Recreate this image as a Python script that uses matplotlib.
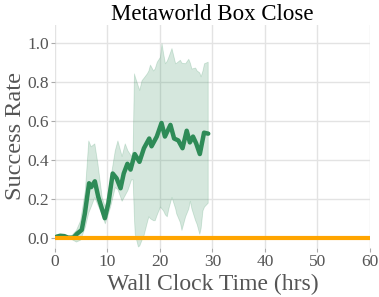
import matplotlib.pyplot as plt

plt.rcParams['font.family'] = ['Liberation Serif', 'DejaVu Serif']

# mean success rate of the green run
green_time = [0.3, 1.0, 1.8, 2.5, 3.5, 4.2, 5.1, 5.7, 6.5, 6.9, 7.6, 8.25, 9.5, 10.2,
              11.0, 11.75, 12.5, 13.1, 13.8, 14.4, 15.2, 16.1, 16.95, 17.96, 18.4,
              19.4, 20.3, 20.95, 22.0, 22.7, 23.5, 24.3, 25.1, 25.7, 26.3, 26.9,
              27.6, 28.4, 29.2]
green_mean = [0.005, 0.01, 0.008, 0.0, 0.0, 0.02, 0.04, 0.125, 0.28, 0.26, 0.29, 0.21,
              0.10, 0.18, 0.33, 0.305, 0.254, 0.33, 0.38, 0.35, 0.43, 0.39, 0.46, 0.51,
              0.47, 0.52, 0.59, 0.52, 0.58, 0.51, 0.50, 0.46, 0.55, 0.49, 0.52, 0.485,
              0.43, 0.54, 0.535]

# spread of the green run
band_time = [0.3, 1.5, 3.0, 4.0, 4.8, 5.7, 6.35, 6.8, 7.5, 8.1, 8.9, 9.5, 10.5, 11.4,
             11.9, 12.7, 13.3, 13.8, 14.5, 14.8, 15.05, 15.2, 15.8, 16.06, 16.5, 16.8,
             17.5, 17.8, 18.1, 18.7, 19.0, 19.4, 20.0, 20.3, 20.6, 20.95, 21.3, 21.6,
             22.2, 22.9, 23.1, 23.8, 24.1, 24.8, 25.4, 25.7, 26.0, 26.7, 27.0, 27.5,
             27.75, 28.1, 28.4, 29.1]
band_upper = [0.01, 0.015, 0.01, 0.04, 0.09, 0.245, 0.50, 0.47, 0.485, 0.38, 0.21, 0.16,
              0.30, 0.45, 0.50, 0.42, 0.485, 0.45, 0.42, 0.45, 0.845, 0.83, 0.78, 0.76,
              0.81, 0.82, 0.845, 0.86, 0.89, 0.86, 0.87, 0.905, 0.93, 1.0, 0.95, 0.897,
              0.91, 0.93, 0.975, 0.897, 0.90, 0.915, 0.90, 0.897, 0.92, 0.90, 0.87,
              0.875, 0.86, 0.85, 0.83, 0.86, 0.897, 0.905]
band_lower = [0.0, 0.0, -0.005, -0.02, -0.01, 0.057, 0.13, 0.16, 0.21, 0.17, 0.12, 0.074,
              0.16, 0.26, 0.25, 0.19, 0.22, 0.245, 0.30, 0.30, 0.10, 0.02, -0.045, -0.04,
              -0.01, 0.005, 0.08, 0.11, 0.10, 0.09, 0.09, 0.12, 0.16, 0.15, 0.14, 0.12,
              0.11, 0.15, 0.21, 0.15, 0.125, 0.08, 0.04, 0.11, 0.15, 0.19, 0.15, 0.09,
              0.07, 0.02, 0.05, 0.14, 0.16, 0.18]

# orange run stays at zero
orange_time = [0, 60]
orange_mean = [0.0, 0.0]

green = '#2e8b57'

fig = plt.figure(figsize=(3.79, 2.97), dpi=100)
ax = fig.add_axes([0.145, 0.165, 0.831, 0.751])

ax.fill_between(band_time, band_lower, band_upper, facecolor=green, alpha=0.2,
                edgecolor=green, linewidth=0.6)
ax.plot(green_time, green_mean, color=green, lw=3.2, solid_capstyle='round')
ax.plot(orange_time, orange_mean, color='orange', lw=3)

ax.set_xlim(0, 60)
ax.set_ylim(-0.053, 1.094)
ax.set_xticks([0, 10, 20, 30, 40, 50, 60])
ax.set_yticks([0.0, 0.2, 0.4, 0.6, 0.8, 1.0])
ax.set_yticklabels(['0.0', '0.2', '0.4', '0.6', '0.8', '1.0'])
ax.grid(True, color='#e3e3e3', lw=1)
ax.set_axisbelow(True)
for s in ax.spines.values():
    s.set_visible(False)
ax.tick_params(colors='#555555', labelsize=12.5, length=3, width=0.8, pad=1.5)
ax.tick_params(axis='both', color='#aaaaaa')

ax.set_title('Metaworld Box Close', fontsize=16.5, pad=3)
ax.set_xlabel('Wall Clock Time (hrs)', fontsize=17, color='#555555', labelpad=2.5)
ax.set_ylabel('Success Rate', fontsize=17.5, color='#555555', labelpad=1)

fig.savefig('out.png', dpi=100)
